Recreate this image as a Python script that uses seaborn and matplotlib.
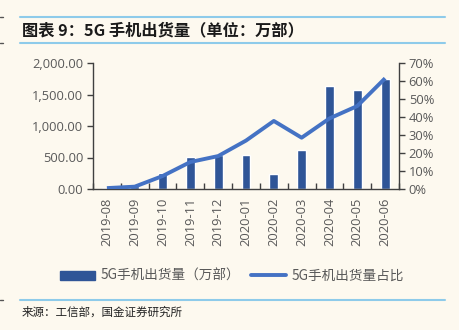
import numpy as np
import pandas as pd
import matplotlib
matplotlib.use("Agg")
import matplotlib.pyplot as plt
import seaborn as sns
from matplotlib.patches import Patch
from matplotlib.lines import Line2D
from matplotlib.ticker import FuncFormatter, MultipleLocator

months = ["2019-08", "2019-09", "2019-10", "2019-11", "2019-12", "2020-01",
          "2020-02", "2020-03", "2020-04", "2020-05", "2020-06"]
shipments = [21.9, 49.3, 249.0, 507.4, 543.8, 546.5, 238.9, 624.5, 1638.2, 1574.5, 1751.3]
share_pct = [0.5, 1.3, 7.2, 15.0, 18.3, 26.9, 37.8, 28.5, 39.2, 46.1, 61.5]

title = "图表 9：5G 手机出货量（单位：万部）"
bar_label = "5G手机出货量（万部）"
line_label = "5G手机出货量占比"
source = "来源：工信部，国金证券研究所"

bg = "#FDF9EF"
bar_color = "#2F5597"
line_color = "#4472C4"
tick_gray = "#595959"
rule_blue = "#8ECBEA"

sns.set_theme(style="white")
plt.rcParams['font.family'] = ['Noto Sans CJK SC', 'DejaVu Sans']

fig = plt.figure(figsize=(4.59, 3.30), dpi=100, facecolor=bg)
ax = fig.add_axes([93/459, 1-189/330, (399-93)/459, (189-63)/330])
ax.set_facecolor(bg)

df = pd.DataFrame({"month": months, "shipments": shipments, "share": share_pct})
sns.barplot(data=df, x="month", y="shipments", ax=ax, color=bar_color,
            width=0.32, saturation=1, order=months)

ax2 = ax.twinx()
sns.lineplot(x=np.arange(len(months)), y=df["share"], ax=ax2, color=line_color,
             linewidth=2.8, solid_capstyle="butt")

ax.set_xlim(-0.5, len(months) - 0.5)
ax.set_ylim(0, 2000)
ax2.set_ylim(0, 70)
ax.yaxis.set_major_locator(MultipleLocator(500))
ax.yaxis.set_major_formatter(FuncFormatter(lambda v, p: f"{v:,.2f}"))
ax2.yaxis.set_major_locator(MultipleLocator(10))
ax2.yaxis.set_major_formatter(FuncFormatter(lambda v, p: f"{v:.0f}%"))

ax.set_xticks(np.arange(len(months)))
ax.set_xticklabels(months, rotation=90, fontsize=9.3, color=tick_gray,
                   family=['Open Sans', 'DejaVu Sans'])
ax.set_xlabel("")
ax.set_ylabel("")
ax2.set_ylabel("")

for a in (ax, ax2):
    for s in a.spines.values():
        s.set_visible(False)
ax.spines["left"].set_visible(True)
ax.spines["bottom"].set_visible(True)
ax2.spines["right"].set_visible(True)
for s in (ax.spines["left"], ax.spines["bottom"], ax2.spines["right"]):
    s.set_color("#404040")
    s.set_linewidth(1.0)

ax.tick_params(axis="y", direction="out", length=4, width=1, color="#404040",
               labelsize=9.3, labelcolor=tick_gray, left=True, pad=3)
ax2.tick_params(axis="y", direction="out", length=4, width=1, color="#404040",
                labelsize=9.3, labelcolor=tick_gray, right=True, pad=3)
for lab in ax.get_yticklabels() + ax2.get_yticklabels():
    lab.set_family(['Open Sans', 'DejaVu Sans'])
# minor ticks at category boundaries pointing up
ax.set_xticks(np.arange(len(months) + 1) - 0.5, minor=True)
ax.tick_params(axis="x", which="major", length=0, pad=6)
ax.tick_params(axis="x", which="minor", direction="in", length=4, width=1,
               color="#404040", bottom=True)
ax.grid(False)
ax2.grid(False)

# Legend
handles = [Patch(facecolor=bar_color, edgecolor=bar_color),
           Line2D([0], [0], color=line_color, linewidth=2.8)]
fig.legend(handles, [bar_label, line_label], loc="center", bbox_to_anchor=(0.505, 1-276/330),
           ncol=2, frameon=False, fontsize=9.8, handlelength=2.6, handleheight=0.6,
           columnspacing=0.8, handletextpad=0.4, labelcolor=tick_gray)

# Title and rules
fig.add_artist(Line2D([20/459, 445/459], [1-17/330, 1-17/330], color=rule_blue, linewidth=1.5))
fig.add_artist(Line2D([20/459, 445/459], [1-43/330, 1-43/330], color=rule_blue, linewidth=1.5))
fig.add_artist(Line2D([20/459, 445/459], [1-300/330, 1-300/330], color=rule_blue, linewidth=1.5))
fig.text(22/459, 1-30/330, title, fontsize=11.7, fontweight="bold", color="#1a1a1a",
         va="center", ha="left", style="italic")
fig.text(22/459, 1-312/330, source, fontsize=8.3, color="#222222", va="center", ha="left")
for yy in (17, 43, 300):
    fig.add_artist(Line2D([0, 3/459], [1-yy/330, 1-yy/330], color="#555555", linewidth=1))

fig.savefig("out.png", dpi=100, facecolor=bg)
